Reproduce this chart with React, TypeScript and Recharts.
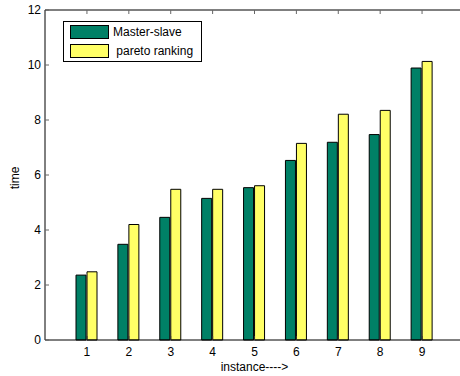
import React from 'react';
import { BarChart, Bar, XAxis, YAxis, Legend, ReferenceLine } from 'recharts';

const instances = ['1', '2', '3', '4', '5', '6', '7', '8', '9'];
const masterSlave = [2.36, 3.48, 4.46, 5.15, 5.54, 6.53, 7.19, 7.47, 9.89];
const paretoRanking = [2.48, 4.2, 5.48, 5.48, 5.61, 7.15, 8.21, 8.35, 10.13];
const yTicks = [0, 2, 4, 6, 8, 10, 12];

const GREEN = '#008066';
const YELLOW = '#FFFF66';
const FONT = '"Liberation Sans", Arial, Helvetica, sans-serif';
const PLOT_TOP = 10;

const data = instances.map((name, i) => ({
  name,
  ms: masterSlave[i],
  pr: paretoRanking[i],
}));

const LegendBox = () => (
  <div
    style={{
      position: 'relative',
      border: '1px solid #000',
      background: '#fff',
      width: 137,
      height: 39,
      boxSizing: 'content-box',
      fontFamily: FONT,
      fontSize: 12,
      color: '#000',
    }}
  >
    {[
      { label: 'Master-slave', color: GREEN },
      { label: ' pareto ranking', color: YELLOW },
    ].map((it, i) => (
      <div
        key={i}
        style={{
          position: 'absolute',
          left: 6,
          top: i === 0 ? 3 : 22,
          display: 'flex',
          alignItems: 'center',
          height: 14,
        }}
      >
        <div
          style={{
            width: 37,
            height: 12,
            background: it.color,
            border: '1px solid #000',
          }}
        />
        <span style={{ marginLeft: 4, whiteSpace: 'pre', lineHeight: '14px' }}>{it.label}</span>
      </div>
    ))}
  </div>
);

const BottomTick = (props: any) => {
  const { x, y, payload } = props;
  return (
    <g>
      <line x1={x} x2={x} y1={PLOT_TOP} y2={PLOT_TOP + 4} stroke="#666" strokeWidth={1} />
      <text
        x={x}
        y={y}
        dy="0.71em"
        textAnchor="middle"
        fill="#000"
        fontSize={12}
        fontFamily={FONT}
      >
        {payload.value}
      </text>
    </g>
  );
};

export default function App() {
  return (
    <div
      style={{
        position: 'fixed',
        left: 0,
        top: 0,
        width: 460,
        height: 376,
        overflow: 'hidden',
        background: '#fff',
      }}
    >
      <BarChart
        width={470}
        height={376}
        data={data}
        margin={{ top: PLOT_TOP, right: 6, bottom: 0, left: 0 }}
        barSize={10}
        barGap={1}
        style={{ fontFamily: FONT }}
      >
        <XAxis
          dataKey="name"
          xAxisId="bottom"
          orientation="bottom"
          height={36}
          padding={{ left: 21, right: 21 }}
          tickSize={-4}
          tickMargin={11}
          axisLine={{ stroke: '#000', strokeWidth: 1 }}
          tickLine={{ stroke: '#333' }}
          tick={<BottomTick />}
          label={{
            value: 'instance---->',
            position: 'insideBottom',
            offset: 5,
            fill: '#000',
            fontSize: 12,
            fontFamily: FONT,
          }}
        />
        <YAxis
          yAxisId="left"
          orientation="left"
          width={45}
          domain={[0, 12]}
          ticks={yTicks}
          interval={0}
          tickSize={-4}
          tickMargin={8}
          axisLine={{ stroke: '#000', strokeWidth: 1 }}
          tickLine={{ stroke: '#666' }}
          tick={{ fill: '#000', fontSize: 12, fontFamily: FONT }}
          label={{
            content: (props: any) => {
              const vb = props.viewBox || { x: 0, y: 10, width: 45, height: 330 };
              const x = vb.x + 19;
              const y = vb.y + vb.height / 2 + 3;
              return (
                <text
                  x={x}
                  y={y}
                  transform={`rotate(-90, ${x}, ${y})`}
                  textAnchor="middle"
                  fill="#000"
                  fontSize={12}
                  fontFamily={FONT}
                >
                  time
                </text>
              );
            },
          }}
        />
        <ReferenceLine
          y={12}
          xAxisId="bottom"
          yAxisId="left"
          stroke="#000"
          strokeWidth={1}
          ifOverflow="visible"
        />
        <Legend
          layout="horizontal"
          verticalAlign="middle"
          align="center"
          wrapperStyle={{ position: 'absolute', left: 63, top: 21, width: 139, height: 41 }}
          content={() => <LegendBox />}
        />
        <Bar
          dataKey="ms"
          name="Master-slave"
          xAxisId="bottom"
          yAxisId="left"
          fill={GREEN}
          stroke="#000"
          strokeWidth={1}
          isAnimationActive={false}
        />
        <Bar
          dataKey="pr"
          name="pareto ranking"
          xAxisId="bottom"
          yAxisId="left"
          fill={YELLOW}
          stroke="#000"
          strokeWidth={1}
          isAnimationActive={false}
        />
      </BarChart>
    </div>
  );
}
